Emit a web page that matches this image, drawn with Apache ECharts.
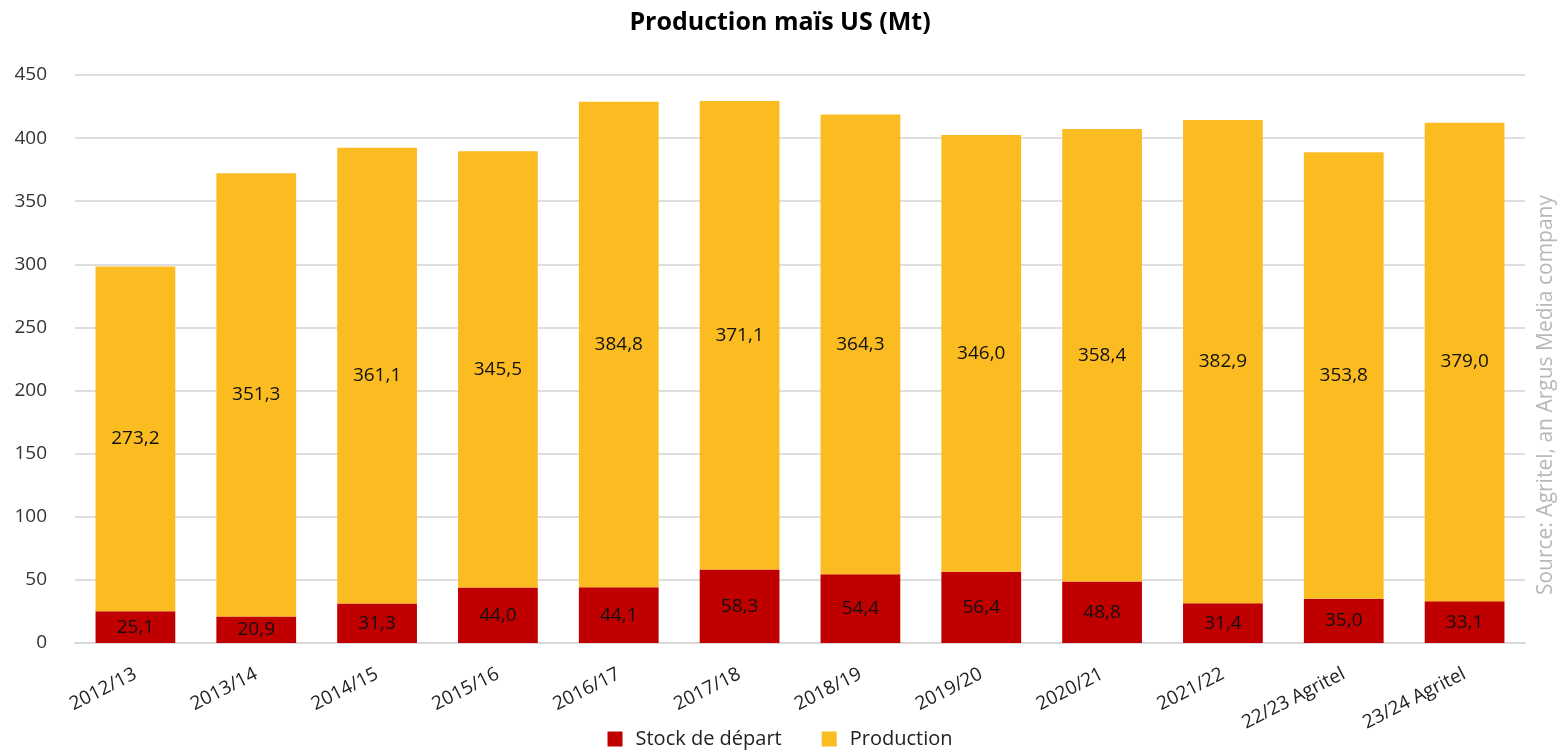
<!DOCTYPE html>
<html>
<head>
<meta charset="utf-8">
<script src="https://cdn.jsdelivr.net/npm/echarts@6/dist/echarts.min.js"></script>
<style>
  html, body { margin: 0; padding: 0; background: #fff; }
  #chart { width: 1560px; height: 754px; }
</style>
</head>
<body>
<div id="chart"></div>
<script>
// données
const campagnes = ['2012/13', '2013/14', '2014/15', '2015/16', '2016/17', '2017/18',
  '2018/19', '2019/20', '2020/21', '2021/22', '22/23 Agritel', '23/24 Agritel'];
const stockDepart = [25.1, 20.9, 31.3, 44.0, 44.1, 58.3, 54.4, 56.4, 48.8, 31.4, 35.0, 33.1];
const production = [273.2, 351.3, 361.1, 345.5, 384.8, 371.1, 364.3, 346.0, 358.4, 382.9, 353.8, 379.0];

const police = '"Open Sans", Lato, sans-serif';
const fmt = p => p.value.toFixed(1).replace('.', ',');

const chart = echarts.init(document.getElementById('chart'));
chart.setOption({
  animation: false,
  title: {
    text: 'Production maïs US (Mt)',
    left: 'center',
    top: 5,
    textStyle: { fontFamily: police, fontSize: 25, fontWeight: 'bold', color: '#000' }
  },
  grid: { left: 75, right: 35, top: 75, bottom: 111 },
  legend: {
    bottom: 0,
    left: 'center',
    itemWidth: 15,
    itemHeight: 15,
    itemGap: 40,
    icon: 'rect',
    textStyle: { fontFamily: police, fontSize: 20, color: '#222', padding: [0, 0, 0, 8] }
  },
  xAxis: {
    type: 'category',
    data: campagnes,
    axisLine: { lineStyle: { color: '#d9d9d9', width: 2 } },
    axisTick: { show: false },
    axisLabel: { rotate: 27, margin: 30, fontFamily: police, fontSize: 19, color: '#222', interval: 0 }
  },
  yAxis: {
    type: 'value',
    min: 0,
    max: 450,
    interval: 50,
    axisLine: { show: false },
    axisTick: { show: false },
    splitLine: { lineStyle: { color: '#dedede', width: 2 } },
    axisLabel: { margin: 28, fontFamily: police, fontSize: 19, color: '#333' }
  },
  graphic: [{
    type: 'text',
    left: 1536,
    top: 195,
    rotation: Math.PI / 2,
    style: {
      text: 'Source: Agritel, an Argus Media company',
      font: '21px ' + police,
      fill: '#b8b8b8'
    }
  }],
  series: [{
    name: 'Stock de départ',
    type: 'bar',
    stack: 'total',
    barCategoryGap: '34%',
    data: stockDepart,
    itemStyle: { color: '#C00000' },
    label: { show: true, position: 'inside', formatter: fmt, fontFamily: police, fontSize: 19, color: '#111' }
  }, {
    name: 'Production',
    type: 'bar',
    stack: 'total',
    data: production,
    itemStyle: { color: '#FBBC22' },
    label: { show: true, position: 'inside', formatter: fmt, fontFamily: police, fontSize: 19, color: '#111' }
  }]
});
</script>
</body>
</html>
